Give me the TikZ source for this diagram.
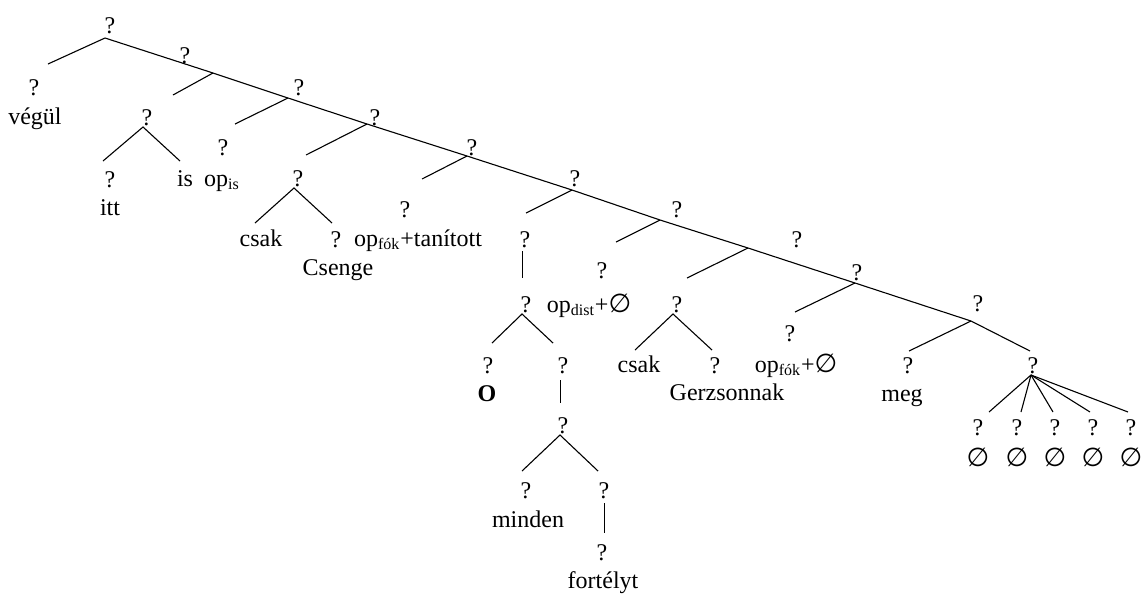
\documentclass[tikz,border=0pt]{standalone}
\usepackage{fontspec}
\setmainfont{Liberation Serif}
\newfontfamily\symfont{DejaVu Sans}
\usetikzlibrary{positioning}
\newcommand{\nul}{{\symfont\fontsize{13}{15}\selectfont ∅}}

\begin{document}
\begin{tikzpicture}[
  x=0.5pt, y=-0.5pt,
  font=\fontsize{12}{14}\selectfont,
  lbl/.style={anchor=base,inner sep=0pt},
  edge/.style={line width=0.55pt},
]
\useasboundingbox (0,0) rectangle (1144,596);

% Spine: junctions and their labels
\coordinate (j1)  at (105,38);
\coordinate (j2)  at (213,73);
\coordinate (j3)  at (288,98);
\coordinate (j4)  at (367,124);
\coordinate (j5)  at (467,156);
\coordinate (j6)  at (572,190);
\coordinate (j7)  at (660,220);
\coordinate (j8)  at (748,248);
\coordinate (j9)  at (855,283);
\coordinate (j10) at (971,321);
\coordinate (fantop) at (1030,351);
\node[lbl] (q1)  at (110,33)  {?};
\node[lbl] (q2)  at (185,63)  {?};
\node[lbl] (q3)  at (299,95)  {?};
\node[lbl] (q4)  at (375,125) {?};
\node[lbl] (q5)  at (472,155) {?};
\node[lbl] (q6)  at (575,186) {?};
\node[lbl] (q7)  at (677,217) {?};
\node[lbl] (q8)  at (797,247) {?};
\node[lbl] (q9)  at (857,280) {?};
\node[lbl] (q10) at (978,311) {?};
\draw[edge] (j1) -- (j2) -- (j3) -- (j4) -- (j5) -- (j6) -- (j7) -- (j8) -- (j9) -- (j10) -- (fantop);

% Left branches off the spine
\coordinate (b1)  at (48,64);
\coordinate (b2)  at (173,95);
\coordinate (b3)  at (235,124);
\coordinate (b4)  at (306,155);
\coordinate (b5)  at (422,179);
\coordinate (b6)  at (526,213);
\coordinate (b7)  at (616,242);
\coordinate (b8)  at (687,278);
\coordinate (b9)  at (795,312);
\coordinate (b10) at (909,351);
\foreach \k in {1,...,10} {\draw[edge] (j\k) -- (b\k);}

% végül
\node[lbl] (qveg) at (34,95)  {?};
\node[lbl] (veg)  at (35,124) {végül};

% itt is
\node[lbl] (qittis) at (147,125) {?};
\coordinate (ittis) at (143,127);
\coordinate (ittL) at (103,161);
\coordinate (ittR) at (180,161);
\draw[edge] (ittL) -- (ittis) -- (ittR);
\node[lbl] (qitt) at (110,187) {?};
\node[lbl] (itt)  at (110,215) {itt};
\node[lbl] (is)   at (185,186) {is};

% op_is
\node[lbl] (qopis) at (223,155) {?};
\node[lbl] (opis)  at (222,186) {op\textsubscript{is}};

% csak Csenge
\node[lbl] (qcs) at (298,186) {?};
\coordinate (cs) at (294,188);
\coordinate (csL) at (255,223);
\coordinate (csR) at (332,223);
\draw[edge] (csL) -- (cs) -- (csR);
\node[lbl] (csak1)  at (261,246) {csak};
\node[lbl] (qcsenge) at (336,247) {?};
\node[lbl] (csenge) at (338,275) {Csenge};

% op_fók + tanított
\node[lbl] (qtan) at (405,217) {?};
\node[lbl] (tan)  at (418,246) {op\textsubscript{fók}+tanított};

% O minden fortélyt
\node[lbl] (qobj) at (525,247) {?};
\coordinate (objtop) at (522.5,251);
\coordinate (objbot) at (522.5,278);
\draw[edge] (objtop) -- (objbot);
\node[lbl] (qo) at (526,312) {?};
\coordinate (o) at (522,314);
\coordinate (oL) at (492,343);
\coordinate (oR) at (553,343);
\draw[edge] (oL) -- (o) -- (oR);
\node[lbl] (qO)  at (488,373) {?};
\node[lbl] (O)   at (487,401) {\textbf{O}};
\node[lbl] (qdp) at (563,373) {?};
\coordinate (dptop) at (560.5,380);
\coordinate (dpbot) at (560.5,403);
\draw[edge] (dptop) -- (dpbot);
\node[lbl] (qmf) at (563,433) {?};
\coordinate (mf) at (560,435);
\coordinate (mfL) at (522,471);
\coordinate (mfR) at (598,471);
\draw[edge] (mfL) -- (mf) -- (mfR);
\node[lbl] (qmin) at (526,498) {?};
\node[lbl] (min)  at (528,527) {minden};
\node[lbl] (qnp)  at (604,498) {?};
\coordinate (nptop) at (604.5,503);
\coordinate (npbot) at (604.5,533);
\draw[edge] (nptop) -- (npbot);
\node[lbl] (qfort) at (602,560) {?};
\node[lbl] (fort)  at (603,588) {fortélyt};

% op_dist
\node[lbl] (qdist) at (602,278) {?};
\node[lbl] (dist)  at (589,312) {op\textsubscript{dist}+\nul};

% csak Gerzsonnak
\node[lbl] (qcg) at (677,312) {?};
\coordinate (cg) at (673,314);
\coordinate (cgL) at (635,350);
\coordinate (cgR) at (712,350);
\draw[edge] (cgL) -- (cg) -- (cgR);
\node[lbl] (csak2) at (639,372) {csak};
\node[lbl] (qgerz) at (715,373) {?};
\node[lbl] (gerz)  at (727,400) {Gerzsonnak};

% op_fók + null
\node[lbl] (qfok) at (790,341) {?};
\node[lbl] (fok)  at (796,372) {op\textsubscript{fók}+\nul};

% meg
\node[lbl] (qmeg) at (908,373) {?};
\node[lbl] (meg)  at (902,401) {meg};

% five empty daughters
\node[lbl] (qfan) at (1033,373) {?};
\coordinate (fan) at (1031,375);
\foreach \i/\tx/\lx in {1/989/978, 2/1021/1017, 3/1053/1055, 4/1090/1093, 5/1128/1131} {
  \coordinate (f\i) at (\tx,412);
  \draw[edge] (fan) -- (f\i);
  \node[lbl] (fq\i) at (\lx,435) {?};
  \node[lbl] (fe\i) at (\lx,466) {\nul};
}
\end{tikzpicture}
\end{document}
